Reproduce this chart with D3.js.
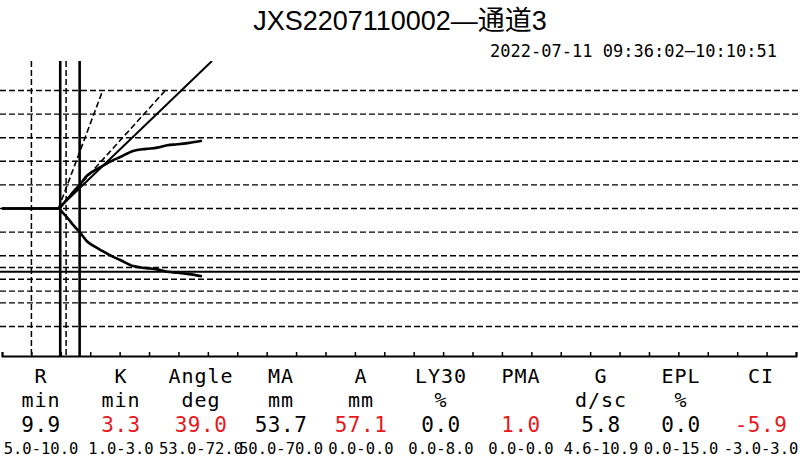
<!DOCTYPE html>
<html>
<head>
<meta charset="utf-8">
<script src="https://cdn.jsdelivr.net/npm/d3@7"></script>
<style>
  body { margin: 0; background: #fff; }
</style>
</head>
<body>
<div id="chart"></div>
<script>
// TEG trace for one channel, with the parameter table underneath
const title = 'JXS2207110002—通道3';
const timeSpan = '2022-07-11 09:36:02—10:10:51';

// trace: minutes vs amplitude (mm), drawn mirrored about the centre line
const traceTime = [0, 9.6, 10.4, 11.3, 12.2, 13.2, 14.4, 15.5, 16.7, 18.5, 20.1, 22.3, 24.5, 26.4, 28.1, 29.8, 31.8, 34.0];
const traceAmp  = [0, 0, 4, 9, 14.5, 20, 27.5, 31.5, 35, 40, 43.6, 48.8, 50.5, 51.6, 53.6, 54.4, 55.6, 57.4];

// angle lines, all starting at the split point: tangent, then the two normal limits
const angleEndTime = [35.7, 17.05, 27.7];
const angleEndAmp  = [125, 99, 99.6];

const gridAmp = [-100, -80, -60, -40, -20, 0, 20, 40, 60, 80, 100];

// parameter table
const params    = ['R', 'K', 'Angle', 'MA', 'A', 'LY30', 'PMA', 'G', 'EPL', 'CI'];
const units     = ['min', 'min', 'deg', 'mm', 'mm', '%', '', 'd/sc', '%', ''];
const values    = [9.9, 3.3, 39.0, 53.7, 57.1, 0.0, 1.0, 5.8, 0.0, -5.9];
const rangeLow  = [5.0, 1.0, 53.0, 50.0, 0.0, 0.0, 0.0, 4.6, 0.0, -3.0];
const rangeHigh = [10.0, 3.0, 72.0, 70.0, 0.0, 8.0, 0.0, 10.9, 15.0, 3.0];

const width = 800;
const height = 460;
const plotTop = 61;
const axisY = 356;

const svg = d3.select('#chart')
    .append('svg')
    .attr('width', width)
    .attr('height', height)
    .style('display', 'block');

const x = d3.scaleLinear().domain([0, 135]).range([2, 796]);
const y = d3.scaleLinear().domain([-125, 125]).range([axisY, plotTop]);

svg.append('clipPath')
    .attr('id', 'plot-clip')
    .append('rect')
    .attr('x', 0)
    .attr('y', plotTop)
    .attr('width', width)
    .attr('height', axisY - plotTop);

const plot = svg.append('g').attr('clip-path', 'url(#plot-clip)');

// horizontal grid
plot.selectAll('.grid')
    .data(gridAmp)
    .enter()
    .append('line')
    .attr('x1', 0)
    .attr('x2', width)
    .attr('y1', d => y(d))
    .attr('y2', d => y(d))
    .attr('stroke', '#000')
    .attr('stroke-width', 1.4)
    .attr('stroke-dasharray', '6,3');

// MA line and its normal range (lower half only)
const maLines = [
    { v: rangeLow[3], dash: '6,3', w: 1.4 },
    { v: values[3], dash: null, w: 2 },
    { v: rangeHigh[3], dash: '6,3', w: 1.4 }
];
plot.selectAll('.ma')
    .data(maLines)
    .enter()
    .append('line')
    .attr('x1', 0)
    .attr('x2', width)
    .attr('y1', d => y(-d.v))
    .attr('y2', d => y(-d.v))
    .attr('stroke', '#000')
    .attr('stroke-width', d => d.w)
    .attr('stroke-dasharray', d => d.dash);

// vertical markers: R normal low, R, R + K min, R + K
const rLines = [
    { t: rangeLow[0], dash: '6,3', w: 1.5 },
    { t: values[0], dash: null, w: 2.6 },
    { t: values[0] + rangeLow[1], dash: '6,3', w: 1.5 },
    { t: values[0] + values[1], dash: null, w: 2.6 }
];
plot.selectAll('.rline')
    .data(rLines)
    .enter()
    .append('line')
    .attr('x1', d => x(d.t))
    .attr('x2', d => x(d.t))
    .attr('y1', plotTop)
    .attr('y2', axisY)
    .attr('stroke', '#000')
    .attr('stroke-width', d => d.w)
    .attr('stroke-dasharray', d => d.dash);

// angle lines
angleEndTime.forEach((t, i) => {
    plot.append('line')
        .attr('x1', x(traceTime[1]))
        .attr('y1', y(0))
        .attr('x2', x(t))
        .attr('y2', y(angleEndAmp[i]))
        .attr('stroke', '#000')
        .attr('stroke-width', i === 0 ? 2 : 1.6)
        .attr('stroke-dasharray', i === 0 ? null : '6,3');
});

// the trace itself, upper and lower halves
const trace = traceTime.map((t, i) => [t, traceAmp[i]]);
const upper = d3.line().x(d => x(d[0])).y(d => y(d[1])).curve(d3.curveMonotoneX);
const lower = d3.line().x(d => x(d[0])).y(d => y(-d[1])).curve(d3.curveMonotoneX);

[upper, lower].forEach(gen => {
    plot.append('path')
        .attr('d', gen(trace))
        .attr('fill', 'none')
        .attr('stroke', '#000')
        .attr('stroke-width', 2.6)
        .attr('stroke-linejoin', 'round');
});

// time axis, 5 minute ticks pointing up
const axis = svg.append('g')
    .attr('transform', `translate(0,${axisY})`)
    .call(d3.axisBottom(x)
        .tickValues(d3.range(0, 136, 5))
        .tickSize(-4)
        .tickSizeOuter(-4)
        .tickFormat(''));
axis.select('.domain').attr('stroke-width', 2);
axis.selectAll('.tick line').attr('stroke-width', 1.5);

// titles
svg.append('text')
    .attr('x', 400)
    .attr('y', 30)
    .attr('text-anchor', 'middle')
    .attr('font-family', '"Liberation Sans", "Noto Sans CJK SC", sans-serif')
    .attr('font-size', '27px')
    .attr('fill', '#000')
    .text(title);

svg.append('text')
    .attr('x', 490)
    .attr('y', 57)
    .attr('textLength', 287)
    .attr('lengthAdjust', 'spacing')
    .attr('font-family', '"DejaVu Sans Mono", monospace')
    .attr('font-size', '17px')
    .attr('fill', '#000')
    .text(timeSpan);

// parameter table
const col = d3.scaleBand().domain(params).range([1, 801]);
const mono = '"DejaVu Sans Mono", monospace';

const cells = svg.selectAll('.cell')
    .data(params)
    .enter()
    .append('g')
    .attr('transform', d => `translate(${col(d) + col.bandwidth() / 2},0)`);

cells.append('text')
    .attr('y', 383)
    .attr('text-anchor', 'middle')
    .attr('font-family', mono)
    .attr('font-size', '20px')
    .attr('letter-spacing', '1px')
    .text(d => d);

cells.append('text')
    .attr('y', 407)
    .attr('text-anchor', 'middle')
    .attr('font-family', mono)
    .attr('font-size', '20px')
    .attr('letter-spacing', '1px')
    .text((d, i) => units[i]);

cells.append('text')
    .attr('y', 432)
    .attr('text-anchor', 'middle')
    .attr('font-family', mono)
    .attr('font-size', '21px')
    .attr('letter-spacing', '0.5px')
    .attr('fill', (d, i) => (values[i] < rangeLow[i] || values[i] > rangeHigh[i]) ? '#e8171c' : '#000')
    .text((d, i) => values[i].toFixed(1));

cells.append('text')
    .attr('y', 454)
    .attr('text-anchor', 'middle')
    .attr('font-family', mono)
    .attr('font-size', '15.5px')
    .text((d, i) => `${rangeLow[i].toFixed(1)}-${rangeHigh[i].toFixed(1)}`);
</script>
</body>
</html>
